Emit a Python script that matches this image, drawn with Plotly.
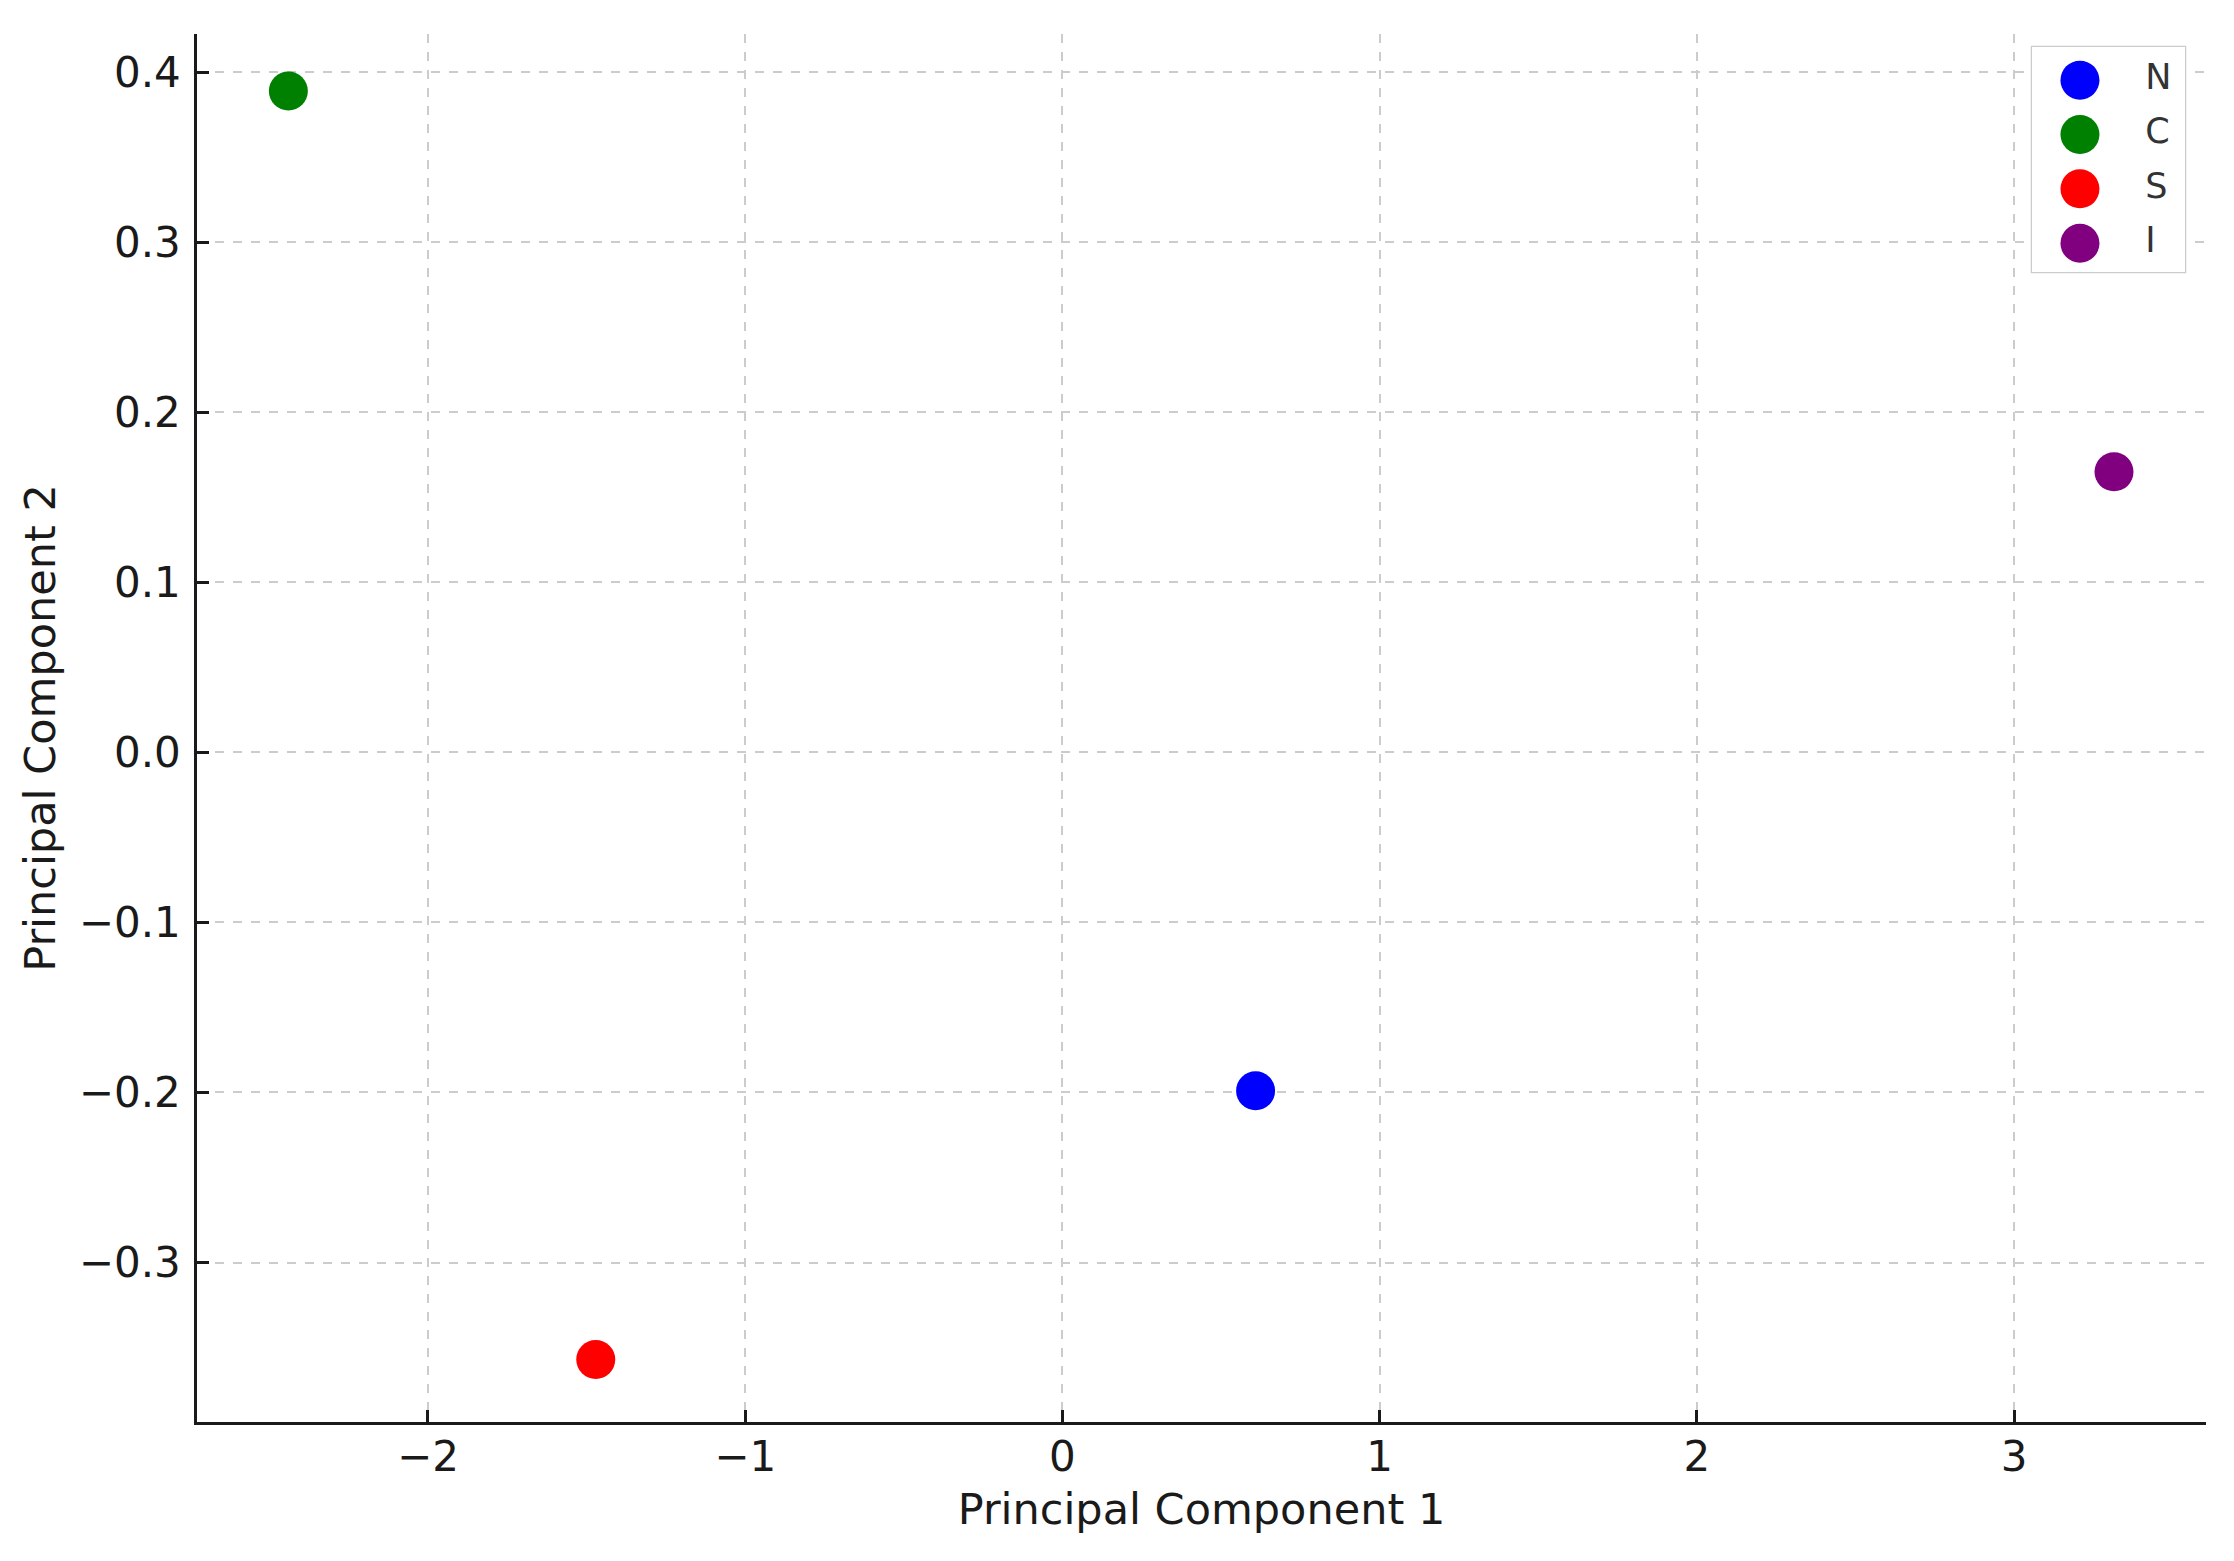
import plotly.graph_objects as go

# Data
categories = ["N", "C", "S", "I"]
pc1 = [0.609, -2.44, -1.471, 3.315]
pc2 = [-0.199, 0.389, -0.357, 0.165]
colors = ["#0000ff", "#008000", "#ff0000", "#800080"]
x_ticks = [-2, -1, 0, 1, 2, 3]
y_ticks = [-0.3, -0.2, -0.1, 0.0, 0.1, 0.2, 0.3, 0.4]

# page body has an 8px margin, so the figure is shifted by 8px
OFF = 8
W, H = 2234 - OFF, 1561 - OFF
ml, mr, mt, mb = 197 - OFF, 28, 34 - OFF, 139
pw, ph = W - ml - mr, H - mt - mb

def px_x(p):
    return (p - OFF - ml) / pw

def px_y(p):
    return (H - mb - (p - OFF)) / ph

FONT = "DejaVu Sans"
TXT = "#1a1a1a"

fig = go.Figure()
for cat, x, y, c in zip(categories, pc1, pc2, colors):
    fig.add_trace(go.Scatter(x=[x], y=[y], mode="markers", name=cat,
                             marker=dict(color=c, size=39, line=dict(width=0)),
                             showlegend=False))

# custom legend drawn on an overlay axis pair
fig.add_trace(go.Scatter(x=[0] * len(categories), y=categories, mode="markers",
                         marker=dict(color=colors, size=39, line=dict(width=0)),
                         xaxis="x2", yaxis="y2", showlegend=False, hoverinfo="skip"))
fig.add_trace(go.Scatter(x=[1.36] * len(categories), y=categories, mode="text",
                         text=categories, textposition="middle right",
                         textfont=dict(family=FONT, size=35, color="#333333"),
                         xaxis="x2", yaxis="y2", showlegend=False, hoverinfo="skip"))

lx0, lx1 = px_x(2032), px_x(2185)
ly0, ly1 = px_y(272), px_y(47)
fig.add_shape(type="rect", xref="paper", yref="paper", x0=lx0, x1=lx1, y0=ly0, y1=ly1,
              line=dict(color="#cccccc", width=2.5), fillcolor="rgba(255,255,255,0.8)",
              layer="below")

axis_common = dict(
    showline=True, linecolor="#1a1a1a", linewidth=2.5, mirror=False,
    ticks="inside", ticklen=12, tickwidth=2.5, tickcolor="#1a1a1a",
    showgrid=True, gridcolor="#cccccc", gridwidth=1.5, griddash="dash",
    zeroline=False, tickfont=dict(family=FONT, size=42, color=TXT),
)

fig.update_layout(
    width=W, height=H,
    margin=dict(l=ml, r=mr, t=mt, b=mb),
    paper_bgcolor="white", plot_bgcolor="white",
    font=dict(family=FONT, color=TXT),
    xaxis=dict(range=[-2.728, 3.605], tickvals=x_ticks, ticklabelstandoff=-4,
               title=dict(text="Principal Component 1", font=dict(family=FONT, size=43, color=TXT),
                          standoff=14),
               **axis_common),
    yaxis=dict(range=[-0.3938, 0.4225], tickvals=y_ticks, tickformat=".1f", ticklabelstandoff=5,
               title=dict(text="Principal Component 2", font=dict(family=FONT, size=43, color=TXT),
                          standoff=10),
               **axis_common),
    xaxis2=dict(domain=[lx0, lx1], range=[-1, 2.19], visible=False, anchor="y2", fixedrange=True),
    yaxis2=dict(domain=[ly0, ly1], type="category", categoryorder="array",
                categoryarray=categories, range=[3.53, -0.61], visible=False,
                anchor="x2", fixedrange=True),
    showlegend=False,
)

fig.write_html("out.html")
